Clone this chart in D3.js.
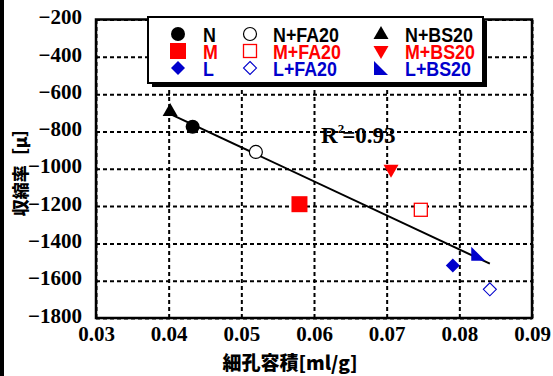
<!DOCTYPE html>
<html>
<head>
<meta charset="utf-8">
<script src="https://cdn.jsdelivr.net/npm/d3@7"></script>
<style>
  body { margin: 0; background: #fff; }
  svg { display: block; }
</style>
</head>
<body>
<div id="chart"></div>
<script>
// series (legend order: rows N / M / L, columns plain / FA20 / BS20)
var seriesNames = ["N", "N+FA20", "N+BS20", "M", "M+FA20", "M+BS20", "L", "L+FA20", "L+BS20"];
var poreVolume  = [0.0433, 0.0520, 0.0402, 0.0580, 0.0747, 0.0706, 0.0791, 0.0842, 0.0826];
var shrinkage   = [-775, -910, -690, -1190, -1220, -1005, -1518, -1646, -1455];
var seriesColor = ["black", "black", "black", "red", "red", "red", "#0000cc", "#0000cc", "#0000cc"];
var seriesShape = ["circle", "circleOpen", "triUp", "square", "squareOpen", "triDown", "diamond", "diamondOpen", "rightTri"];

// regression line ends
var trendX = [0.0398, 0.0842];
var trendY = [-699, -1509];
var r2Label = "0.93";

var xTicks = [0.03, 0.04, 0.05, 0.06, 0.07, 0.08, 0.09];
var yTicks = [-200, -400, -600, -800, -1000, -1200, -1400, -1600, -1800];

var W = 553, H = 376;
var plotL = 96, plotR = 532, plotT = 19.5, plotB = 318;

var svg = d3.select("#chart").append("svg")
    .attr("width", W)
    .attr("height", H);

var x = d3.scaleLinear().domain([0.03, 0.09]).range([plotL, plotR]);
var y = d3.scaleLinear().domain([-200, -1800]).range([plotT, plotB]);

// left edge bar of the figure frame
svg.append("rect")
    .attr("x", 0).attr("y", 0)
    .attr("width", 4).attr("height", H)
    .attr("fill", "black");

// grid
var gridY = svg.append("g")
    .attr("transform", "translate(" + plotL + ",0)")
    .call(d3.axisLeft(y).tickValues(yTicks).tickSize(-(plotR - plotL)).tickFormat(""));
var gridX = svg.append("g")
    .attr("transform", "translate(0," + plotB + ")")
    .call(d3.axisBottom(x).tickValues(xTicks).tickSize(-(plotB - plotT)).tickFormat(""));
[gridX, gridY].forEach(function(g) {
  g.select(".domain").remove();
  g.selectAll("line")
      .attr("stroke", "black")
      .attr("stroke-width", 2)
      .attr("stroke-dasharray", "4,3");
});

// plot frame
svg.append("rect")
    .attr("x", plotL).attr("y", plotT)
    .attr("width", plotR - plotL).attr("height", plotB - plotT)
    .attr("fill", "none")
    .attr("stroke", "black")
    .attr("stroke-width", 2.5);

// tick labels
var yAxis = svg.append("g")
    .attr("transform", "translate(" + plotL + ",0)")
    .call(d3.axisLeft(y).tickValues(yTicks).tickSize(0).tickPadding(14).tickFormat(d3.format("d")));
var xAxis = svg.append("g")
    .attr("transform", "translate(0," + plotB + ")")
    .call(d3.axisBottom(x).tickValues(xTicks).tickSize(0).tickPadding(8).tickFormat(d3.format(".2f")));
[xAxis, yAxis].forEach(function(g) {
  g.select(".domain").remove();
  g.selectAll("text")
      .attr("fill", "black")
      .style("font-family", "'Liberation Serif', 'Times New Roman', serif")
      .style("font-weight", "bold")
      .style("font-size", "21px");
});
yAxis.selectAll("text").attr("dy", "0.2em");

// axis titles
svg.append("text")
    .attr("transform", "translate(27,168) rotate(-90)")
    .attr("text-anchor", "middle")
    .style("font-family", "'Noto Sans CJK JP', sans-serif")
    .style("font-weight", "900")
    .style("font-size", "17px")
    .text("収縮率［μ］");

svg.append("text")
    .attr("x", 290).attr("y", 370)
    .attr("text-anchor", "middle")
    .style("font-family", "'Noto Sans CJK JP', sans-serif")
    .style("font-weight", "900")
    .style("font-size", "19px")
    .text("細孔容積[ml/g]");

// regression line
svg.append("line")
    .attr("x1", x(trendX[0])).attr("y1", y(trendY[0]))
    .attr("x2", x(trendX[1])).attr("y2", y(trendY[1]))
    .attr("stroke", "black")
    .attr("stroke-width", 2);

var r2 = svg.append("text")
    .attr("x", 321).attr("y", 143)
    .style("font-family", "'Liberation Serif', 'Times New Roman', serif")
    .style("font-weight", "bold")
    .style("font-size", "23px");
r2.append("tspan").text("R");
r2.append("tspan").attr("dy", -10).style("font-size", "13px").text("2");
r2.append("tspan").attr("dy", 10).attr("dx", -2).text("=" + r2Label);

// marker shapes
function drawMarker(g, shape, color) {
  switch (shape) {
    case "circle":
      g.append("circle").attr("r", 7).attr("fill", color); break;
    case "circleOpen":
      g.append("circle").attr("r", 6.5).attr("fill", "white").attr("stroke", color).attr("stroke-width", 1.2); break;
    case "square":
      g.append("rect").attr("x", -8).attr("y", -8).attr("width", 16).attr("height", 16).attr("fill", color); break;
    case "squareOpen":
      g.append("rect").attr("x", -6.5).attr("y", -6.5).attr("width", 13).attr("height", 13)
          .attr("fill", "white").attr("stroke", color).attr("stroke-width", 1.3); break;
    case "triUp":
      g.append("path").attr("d", "M0,-8L7.5,5L-7.5,5Z").attr("fill", color); break;
    case "triDown":
      g.append("path").attr("d", "M0,8L7.5,-5L-7.5,-5Z").attr("fill", color); break;
    case "diamond":
      g.append("path").attr("d", "M0,-7L7,0L0,7L-7,0Z").attr("fill", color); break;
    case "diamondOpen":
      g.append("path").attr("d", "M0,-6.5L6.5,0L0,6.5L-6.5,0Z").attr("fill", "white")
          .attr("stroke", color).attr("stroke-width", 1.1); break;
    case "rightTri":
      g.append("path").attr("d", "M-7,-7L-7,7L7,7Z").attr("fill", color); break;
  }
}

// points
var pts = svg.selectAll("g.pt")
    .data(seriesNames)
    .enter().append("g")
    .attr("class", "pt")
    .attr("transform", function(d, i) {
      return "translate(" + x(poreVolume[i]) + "," + y(shrinkage[i]) + ")";
    });
pts.each(function(d, i) { drawMarker(d3.select(this), seriesShape[i], seriesColor[i]); });

// legend
var lgX = 148, lgY = 17, lgW = 335, lgH = 66;
svg.append("rect")
    .attr("x", lgX + 4).attr("y", lgY + 4)
    .attr("width", lgW).attr("height", lgH)
    .attr("fill", "black");
svg.append("rect")
    .attr("x", lgX).attr("y", lgY)
    .attr("width", lgW).attr("height", lgH)
    .attr("fill", "white")
    .attr("stroke", "black")
    .attr("stroke-width", 2);

var colSym = [178, 250, 381], colTxt = [203, 273, 405], rowY = [34, 51, 68];
var legend = svg.selectAll("g.lg")
    .data(seriesNames)
    .enter().append("g")
    .attr("class", "lg");
legend.each(function(d, i) {
  var g = d3.select(this), c = i % 3, r = Math.floor(i / 3);
  var m = g.append("g").attr("transform", "translate(" + colSym[c] + "," + rowY[r] + ")");
  drawMarker(m, seriesShape[i], seriesColor[i]);
  g.append("text")
      .attr("x", 0).attr("y", rowY[r] + 8)
      .attr("fill", seriesColor[i])
      .style("font-family", "'Liberation Sans', Arial, sans-serif")
      .style("font-weight", "bold")
      .style("font-size", "21px")
      .attr("transform", "translate(" + colTxt[c] + ",0) scale(0.85,1)")
      .text(d);
});
</script>
</body>
</html>
